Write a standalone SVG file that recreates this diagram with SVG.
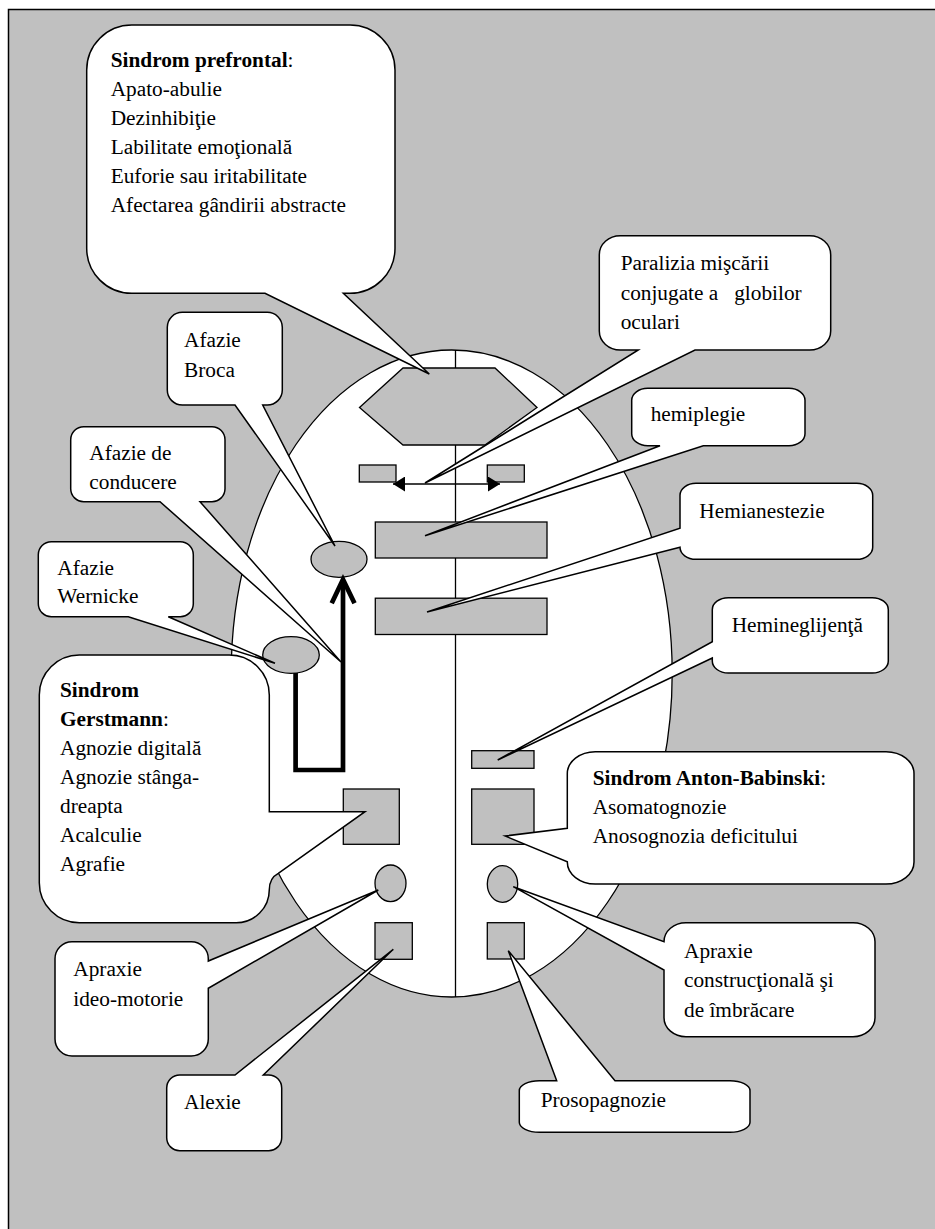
<svg xmlns="http://www.w3.org/2000/svg" width="935" height="1229" viewBox="0 0 935 1229">
<defs>
<style>
.bg{fill:#C0C0C0;stroke:#000;stroke-width:1.5}
.brain{fill:#fff;stroke:#000;stroke-width:1.3}
.line{fill:none;stroke:#000;stroke-width:1.3}
.shape{fill:#C0C0C0;stroke:#000;stroke-width:1.3}
.callout{fill:#fff;stroke:#000;stroke-width:1.5;stroke-linejoin:miter}
.t{font-family:"Liberation Serif","Times New Roman",serif;font-size:21.3px;fill:#000}
.b{font-weight:bold}
.thick{fill:none;stroke:#000;stroke-width:4.7;stroke-linejoin:miter}
</style>
<marker id="tri" viewBox="0 0 12 15" refX="12" refY="7.5" markerWidth="12" markerHeight="15" markerUnits="userSpaceOnUse" orient="auto-start-reverse">
<path d="M0,0 L12,7.5 L0,15 Z" fill="#000"/>
</marker>
</defs>
<rect class="bg" x="8.5" y="9.5" width="960" height="1260"/>

<g id="brain">
<ellipse class="brain" cx="451.7" cy="673.5" rx="220.5" ry="323.5"/>
<line class="line" x1="455.5" y1="350" x2="455.5" y2="997"/>
</g>

<g id="prefrontal-area"><polygon class="shape" points="403,368 495,368 537,407.5 485,445 403,445 359.5,407.5"/></g>
<g id="eye-field-left"><rect class="shape" x="359.3" y="465" width="36.7" height="17"/></g>
<g id="eye-field-right"><rect class="shape" x="487.3" y="465" width="37" height="17"/></g>
<g id="motor-strip"><rect class="shape" x="375.3" y="522" width="171.7" height="36"/></g>
<g id="sensory-strip"><rect class="shape" x="375.3" y="598.2" width="171.7" height="36.3"/></g>
<g id="broca-area"><ellipse class="shape" cx="339" cy="559.3" rx="28" ry="18"/></g>
<g id="wernicke-area"><ellipse class="shape" cx="291" cy="655" rx="28.3" ry="18.3"/></g>
<g id="gerstmann-area"><rect class="shape" x="343.3" y="789" width="56" height="55.3"/></g>
<g id="neglect-area"><rect class="shape" x="471.7" y="750.7" width="62.3" height="17.6"/></g>
<g id="anton-area"><rect class="shape" x="471.7" y="789" width="62.3" height="55.3"/></g>
<g id="ideomotor-area"><ellipse class="shape" cx="390.5" cy="883.3" rx="15.5" ry="18.3"/></g>
<g id="constructional-area"><ellipse class="shape" cx="502.5" cy="884" rx="15.2" ry="18.3"/></g>
<g id="alexia-area"><rect class="shape" x="375" y="922.7" width="37.3" height="36.6"/></g>
<g id="prosopagnosia-area"><rect class="shape" x="487.3" y="922.7" width="37" height="36.3"/></g>

<g id="connectors">
<line class="line" x1="393" y1="484" x2="500" y2="484" marker-start="url(#tri)" marker-end="url(#tri)"/>
<path class="thick" d="M295.6,673 V770 H343 V581"/>
<polyline class="thick" points="331.7,603.3 343,579.5 354.5,603.3"/>
</g>

<g id="callout-prefrontal">
<path class="callout" d="M131.7,25 H350 A45,45 0 0 1 395,70 V248.3 A45,45 0 0 1 350,293.3 H343.3 L429.3,374 L265,293.3 H131.7 A45,45 0 0 1 86.7,248.3 V70 A45,45 0 0 1 131.7,25 Z"/>
<text class="t" x="110.7" y="66.5"><tspan class="b">Sindrom prefrontal</tspan>:</text>
<text class="t" x="110.7" y="95.5">Apato-abulie</text>
<text class="t" x="110.7" y="124.5">Dezinhibiţie</text>
<text class="t" x="110.7" y="153.5">Labilitate emoţională</text>
<text class="t" x="110.7" y="182.5">Euforie sau iritabilitate</text>
<text class="t" x="110.7" y="211.5">Afectarea gândirii abstracte</text>
</g>

<g id="callout-broca">
<path class="callout" d="M182.3,312.3 H267.3 A15,15 0 0 1 282.3,327.3 V390 A15,15 0 0 1 267.3,405 H262.7 L335,546 L235,405 H182.3 A15,15 0 0 1 167.3,390 V327.3 A15,15 0 0 1 182.3,312.3 Z"/>
<text class="t" x="184" y="346.7">Afazie</text>
<text class="t" x="184" y="376.7">Broca</text>
</g>

<g id="callout-conducere">
<path class="callout" d="M83.7,426.7 H212 A13,13 0 0 1 225,439.7 V488.7 A13,13 0 0 1 212,501.7 H200 L341,662 L160,501.7 H83.7 A13,13 0 0 1 70.7,488.7 V439.7 A13,13 0 0 1 83.7,426.7 Z"/>
<text class="t" x="89.3" y="460">Afazie de</text>
<text class="t" x="89.3" y="489.3">conducere</text>
</g>

<g id="callout-wernicke">
<path class="callout" d="M51.3,541.7 H180.3 A13,13 0 0 1 193.3,554.7 V603.7 A13,13 0 0 1 180.3,616.7 H168.3 L275,663.3 L128.3,616.7 H51.3 A13,13 0 0 1 38.3,603.7 V554.7 A13,13 0 0 1 51.3,541.7 Z"/>
<text class="t" x="57.3" y="575">Afazie</text>
<text class="t" x="57.3" y="603.3">Wernicke</text>
</g>

<g id="callout-gerstmann">
<path class="callout" d="M79.3,655 H229.3 A40,40 0 0 1 269.3,695 V811.7 L365,811.7 L278.3,873.3 Q269.3,878 269.3,889.7 A33,33 0 0 1 236.3,922.7 H79.3 A40,40 0 0 1 39.3,882.7 V695 A40,40 0 0 1 79.3,655 Z"/>
<text class="t b" x="60" y="696.7">Sindrom</text>
<text class="t" x="60" y="726"><tspan class="b">Gerstmann</tspan>:</text>
<text class="t" x="60" y="755">Agnozie digitală</text>
<text class="t" x="60" y="784">Agnozie stânga-</text>
<text class="t" x="60" y="812.7">dreapta</text>
<text class="t" x="60" y="841.7">Acalculie</text>
<text class="t" x="60" y="870.7">Agrafie</text>
</g>

<g id="callout-ideomotorie">
<path class="callout" d="M72,941.7 H191.3 A17,17 0 0 1 208.3,958.7 V961 L378.3,890 L208.3,988.3 V1039 A17,17 0 0 1 191.3,1056 H72 A17,17 0 0 1 55,1039 V958.7 A17,17 0 0 1 72,941.7 Z"/>
<text class="t" x="73.3" y="976">Apraxie</text>
<text class="t" x="73.3" y="1006">ideo-motorie</text>
</g>

<g id="callout-alexie">
<path class="callout" d="M179.7,1075 H235 L393.3,949.3 L263.3,1075 H268.7 A13,13 0 0 1 281.7,1088 V1137.7 A13,13 0 0 1 268.7,1150.7 H179.7 A13,13 0 0 1 166.7,1137.7 V1088 A13,13 0 0 1 179.7,1075 Z"/>
<text class="t" x="184" y="1109.3">Alexie</text>
</g>

<g id="callout-paralizia">
<path class="callout" d="M620.3,235.7 H809.7 A21,19 0 0 1 830.7,254.7 V331 A21,19 0 0 1 809.7,350 H695 L425,483 L638.3,350 H620.3 A21,19 0 0 1 599.3,331 V254.7 A21,19 0 0 1 620.3,235.7 Z"/>
<text class="t" x="620.7" y="270">Paralizia mişcării</text>
<text class="t" x="620.7" y="300" xml:space="preserve">conjugate a   globilor</text>
<text class="t" x="620.7" y="329.3">oculari</text>
</g>

<g id="callout-hemiplegie">
<path class="callout" d="M647.7,388.3 H789 A16,12 0 0 1 805,400.3 V433.7 A16,12 0 0 1 789,445.7 H703.3 L425,535.7 L660,445.7 H647.7 A16,12 0 0 1 631.7,433.7 V400.3 A16,12 0 0 1 647.7,388.3 Z"/>
<text class="t" x="650.7" y="420.7">hemiplegie</text>
</g>

<g id="callout-hemianestezie">
<path class="callout" d="M696,483.3 H856.7 A16,12 0 0 1 872.7,495.3 V547.3 A16,12 0 0 1 856.7,559.3 H696 A16,12 0 0 1 680,547.3 L427,612 L680,528.3 V495.3 A16,12 0 0 1 696,483.3 Z"/>
<text class="t" x="699.3" y="518.3">Hemianestezie</text>
</g>

<g id="callout-hemineglijenta">
<path class="callout" d="M728.3,597.7 H872.3 A16,12 0 0 1 888.3,609.7 V661 A16,12 0 0 1 872.3,673 H728.3 A16,12 0 0 1 712.3,661 V658 L497.7,760 L712.3,641.7 V609.7 A16,12 0 0 1 728.3,597.7 Z"/>
<text class="t" x="731.7" y="632.3">Hemineglijenţă</text>
</g>

<g id="callout-anton-babinski">
<path class="callout" d="M595.3,751.7 H886 A28,22 0 0 1 914,773.7 V862 A28,22 0 0 1 886,884 H595.3 A28,22 0 0 1 567.3,862 V861.7 L505,836 L567.3,828.3 V773.7 A28,22 0 0 1 595.3,751.7 Z"/>
<text class="t" x="592.7" y="785"><tspan class="b">Sindrom Anton-Babinski</tspan>:</text>
<text class="t" x="592.7" y="814">Asomatognozie</text>
<text class="t" x="592.7" y="843.3">Anosognozia deficitului</text>
</g>

<g id="callout-constructionala">
<path class="callout" d="M686,922.7 H853 A22,19 0 0 1 875,941.7 V1017.7 A22,19 0 0 1 853,1036.7 H686 A22,19 0 0 1 664,1017.7 V970 L513.3,886.7 L664,941.7 A22,19 0 0 1 686,922.7 Z"/>
<text class="t" x="684" y="958.3">Apraxie</text>
<text class="t" x="684" y="987.3">construcţională şi</text>
<text class="t" x="684" y="1016.7">de îmbrăcare</text>
</g>

<g id="callout-prosopagnozie">
<path class="callout" d="M539.3,1080.7 H556.7 L508.3,950.7 L615,1080.7 H730 A20,10 0 0 1 750,1090.7 V1122.3 A20,10 0 0 1 730,1132.3 H539.3 A20,10 0 0 1 519.3,1122.3 V1090.7 A20,10 0 0 1 539.3,1080.7 Z"/>
<text class="t" x="540.7" y="1106.7">Prosopagnozie</text>
</g>
</svg>
